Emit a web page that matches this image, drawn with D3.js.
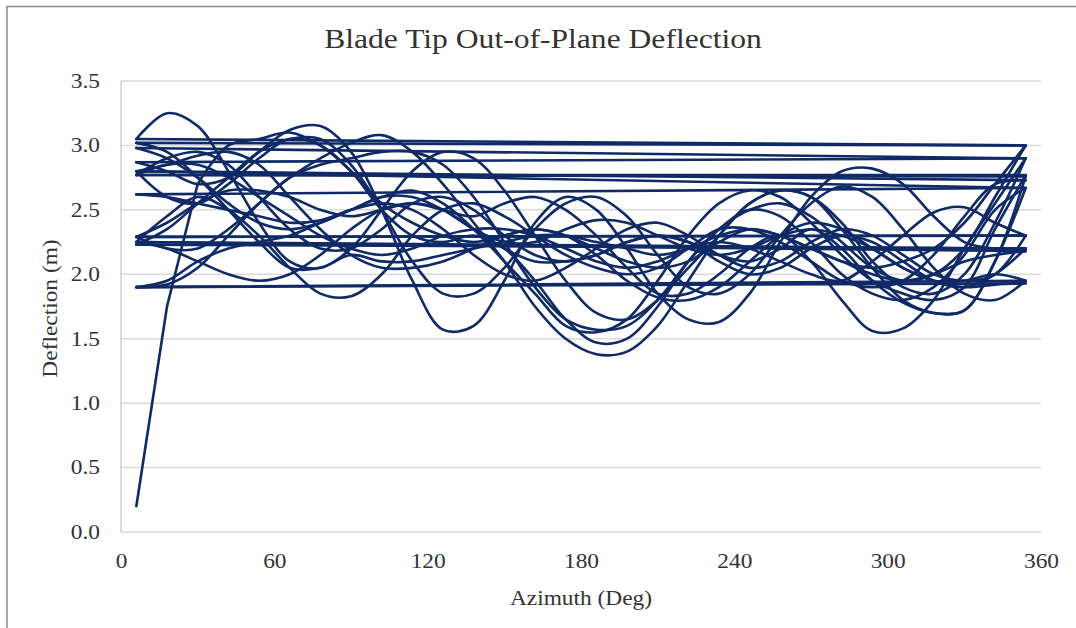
<!DOCTYPE html>
<html>
<head>
<meta charset="utf-8">
<script src="https://cdn.jsdelivr.net/npm/d3@7"></script>
<style>
  body { margin: 0; background: #fff; }
  text { font-family: "Liberation Serif", "Times New Roman", serif; fill: #333; }
</style>
</head>
<body>
<svg id="chart" width="1076" height="628"></svg>
<script>
// azimuth samples of each revolution (deg)
var azimuth = [6, 18, 30, 42, 54, 66, 78, 90, 102, 114, 126, 138, 150, 162, 174,
               186, 198, 210, 222, 234, 246, 258, 270, 282, 294, 306, 318, 330, 342, 354];

// tip deflection (m), one array per revolution
var rev01 = [0.2, 1.75, 2.7, 3.0, 3.05, 3.1, 3.0, 2.8, 2.55, 2.4, 2.3, 2.25, 2.3, 2.35, 2.3, 2.2, 2.1, 2.05, 2.1, 2.25, 2.35, 2.3, 2.2, 2.1, 2.05, 2.1, 2.2, 2.4, 2.7, 3.0];
var rev02 = [3.05, 3.25, 3.15, 2.8, 2.4, 2.1, 2.05, 2.2, 2.5, 2.8, 2.95, 2.9, 2.65, 2.3, 1.95, 1.7, 1.65, 1.8, 2.05, 2.3, 2.55, 2.65, 2.6, 2.4, 2.1, 1.9, 1.85, 2.0, 2.4, 2.9];
var rev03 = [2.87, 2.8, 2.7, 2.75, 2.95, 3.12, 3.15, 2.95, 2.5, 1.95, 1.57, 1.6, 1.95, 2.4, 2.6, 2.5, 2.2, 1.85, 1.65, 1.63, 1.85, 2.25, 2.6, 2.8, 2.82, 2.7, 2.45, 2.25, 2.2, 2.2];
var rev04 = [2.23, 2.35, 2.55, 2.75, 2.95, 3.05, 3.05, 2.85, 2.5, 2.1, 1.85, 1.85, 2.05, 2.35, 2.55, 2.6, 2.45, 2.15, 1.9, 1.85, 2.0, 2.3, 2.55, 2.68, 2.6, 2.35, 2.05, 1.85, 1.8, 1.95];
var rev05 = [1.9, 1.92, 2.05, 2.3, 2.55, 2.75, 2.9, 3.02, 3.08, 2.95, 2.7, 2.4, 2.1, 1.75, 1.5, 1.38, 1.4, 1.6, 1.95, 2.3, 2.55, 2.65, 2.6, 2.35, 2.05, 1.8, 1.7, 1.72, 2.1, 2.76];
var rev06 = [2.77, 2.9, 2.95, 2.85, 2.6, 2.35, 2.2, 2.2, 2.35, 2.55, 2.6, 2.5, 2.3, 2.15, 2.1, 2.15, 2.25, 2.3, 2.25, 2.1, 2.0, 2.05, 2.2, 2.3, 2.25, 2.1, 1.95, 1.9, 2.0, 2.2];
var rev07 = [2.25, 2.45, 2.6, 2.5, 2.3, 2.05, 1.85, 1.83, 2.0, 2.3, 2.5, 2.55, 2.45, 2.3, 2.15, 2.05, 2.0, 2.05, 2.2, 2.35, 2.35, 2.25, 2.1, 1.95, 1.9, 1.95, 2.15, 2.45, 2.7, 2.73];
var rev08 = [2.8, 2.6, 2.55, 2.7, 2.9, 3.05, 3.0, 2.8, 2.5, 2.3, 2.25, 2.3, 2.2, 1.95, 1.65, 1.47, 1.5, 1.75, 2.1, 2.35, 2.5, 2.45, 2.25, 2.0, 1.85, 1.8, 1.9, 2.15, 2.5, 2.67];
var rev09 = [2.62, 2.6, 2.55, 2.5, 2.45, 2.4, 2.42, 2.5, 2.55, 2.5, 2.35, 2.15, 2.0, 1.95, 2.05, 2.2, 2.35, 2.4, 2.3, 2.15, 2.05, 2.1, 2.25, 2.35, 2.3, 2.15, 2.0, 1.95, 2.0, 2.3];
var rev10 = [2.29, 2.2, 2.2, 2.35, 2.55, 2.75, 2.85, 2.9, 2.95, 2.95, 2.85, 2.6, 2.25, 1.9, 1.65, 1.57, 1.6, 1.8, 2.1, 2.35, 2.5, 2.55, 2.45, 2.25, 2.05, 1.95, 2.0, 2.2, 2.6, 3.0];
var rev11 = [3.02, 2.95, 2.75, 2.5, 2.25, 2.05, 2.05, 2.15, 2.1, 2.1, 2.15, 2.2, 2.25, 2.3, 2.3, 2.25, 2.2, 2.15, 2.2, 2.3, 2.35, 2.3, 2.2, 2.1, 2.0, 1.95, 2.0, 2.1, 2.15, 2.18];
var rev12 = [2.25, 2.2, 2.1, 2.0, 1.95, 2.0, 2.15, 2.35, 2.5, 2.55, 2.5, 2.45, 2.55, 2.6, 2.5, 2.3, 2.05, 1.85, 1.85, 2.0, 2.2, 2.3, 2.1, 1.8, 1.56, 1.58, 1.8, 2.2, 2.55, 2.9];
var rev13 = [2.98, 2.9, 2.75, 2.55, 2.4, 2.35, 2.4, 2.5, 2.6, 2.6, 2.5, 2.35, 2.25, 2.25, 2.35, 2.42, 2.4, 2.3, 2.2, 2.15, 2.2, 2.3, 2.35, 2.3, 2.2, 2.05, 1.95, 1.9, 1.92, 1.93];
var rev14 = [1.9, 1.95, 2.1, 2.2, 2.25, 2.3, 2.4, 2.5, 2.6, 2.65, 2.55, 2.35, 2.1, 1.85, 1.6, 1.55, 1.65, 1.95, 2.3, 2.55, 2.65, 2.6, 2.4, 2.15, 1.95, 1.85, 1.8, 1.9, 2.35, 2.77];
var rev15 = [2.77, 2.85, 2.85, 2.75, 2.6, 2.45, 2.3, 2.2, 2.15, 2.2, 2.3, 2.35, 2.35, 2.3, 2.2, 2.1, 2.05, 2.1, 2.2, 2.25, 2.2, 2.1, 2.0, 1.95, 2.1, 2.3, 2.48, 2.52, 2.4, 2.3];
var rev16 = [2.29, 2.4, 2.55, 2.65, 2.65, 2.6, 2.5, 2.45, 2.5, 2.55, 2.5, 2.35, 2.2, 2.1, 2.1, 2.15, 2.25, 2.3, 2.25, 2.15, 2.1, 2.2, 2.35, 2.2, 1.95, 1.78, 1.7, 1.72, 2.1, 2.67];
var rev17 = [2.8, 2.85, 2.92, 2.95, 2.85, 2.6, 2.35, 2.15, 2.05, 2.05, 2.1, 2.2, 2.3, 2.35, 2.3, 2.15, 1.95, 1.82, 1.8, 1.9, 2.1, 2.3, 2.4, 2.35, 2.2, 2.05, 1.95, 1.95, 2.0, 1.95];

var revolutions = [rev01, rev02, rev03, rev04, rev05, rev06, rev07, rev08, rev09,
                   rev10, rev11, rev12, rev13, rev14, rev15, rev16, rev17];

var xTicks = [0, 60, 120, 180, 240, 300, 360];
var yTicks = [0, 0.5, 1.0, 1.5, 2.0, 2.5, 3.0, 3.5];

var svg = d3.select('#chart');
var margin = {top: 81, right: 35, bottom: 96, left: 121};
var width = 1076 - margin.left - margin.right;
var height = 628 - margin.top - margin.bottom;
var stretch = 'scale(1.17,1)';   // the original lettering runs wide

// outer frame
svg.append('path')
    .attr('d', 'M7,640 V6.5 H1080')
    .attr('fill', 'none')
    .attr('stroke', '#8c8c8c')
    .attr('stroke-width', 1.5);

var g = svg.append('g').attr('transform', 'translate(' + margin.left + ',' + margin.top + ')');

var x = d3.scaleLinear().domain([0, 360]).range([0, width]);
var y = d3.scaleLinear().domain([0, 3.5]).range([height, 0]);

// grid
g.append('g')
    .selectAll('line')
    .data(yTicks)
    .enter().append('line')
    .attr('x1', 0)
    .attr('x2', width)
    .attr('y1', function(d) { return y(d); })
    .attr('y2', function(d) { return y(d); })
    .attr('stroke', '#d9d9d9')
    .attr('stroke-width', 1.5);

g.append('line')
    .attr('x1', 0).attr('x2', 0)
    .attr('y1', 0).attr('y2', height)
    .attr('stroke', '#d0d0d0')
    .attr('stroke-width', 1.5);

var yAxis = d3.axisLeft(y).tickValues(yTicks).tickFormat(d3.format('.1f')).tickSize(0).tickPadding(18);
g.append('g').call(yAxis)
    .call(function(s) { s.select('.domain').remove(); })
    .selectAll('text')
    .attr('transform', stretch)
    .style('font-size', '20px')
    .style('font-family', '"Liberation Serif", serif')
    .attr('fill', '#333');

var xAxis = d3.axisBottom(x).tickValues(xTicks).tickFormat(d3.format('d')).tickSize(0).tickPadding(22);
g.append('g').attr('transform', 'translate(0,' + height + ')').call(xAxis)
    .call(function(s) { s.select('.domain').remove(); })
    .selectAll('text')
    .attr('transform', stretch)
    .attr('x', 0)
    .style('font-size', '20px')
    .style('font-family', '"Liberation Serif", serif')
    .attr('fill', '#333');

// each revolution drawn smooth, with the straight jump back to the next start
var line = d3.line()
    .x(function(d) { return x(d[0]); })
    .y(function(d) { return y(d[1]); })
    .curve(d3.curveCatmullRom.alpha(0.5));

var jump = d3.line()
    .x(function(d) { return x(d[0]); })
    .y(function(d) { return y(d[1]); });

var traces = g.append('g')
    .attr('fill', 'none')
    .attr('stroke', '#0f2a66')
    .attr('stroke-width', 2.6)
    .attr('stroke-linejoin', 'round')
    .attr('stroke-linecap', 'round');

revolutions.forEach(function(rev, k) {
    var pts = rev.map(function(v, i) { return [azimuth[i], v]; });
    // the start-up sweep is a straight climb, keep it unsmoothed
    traces.append('path').attr('d', k === 0 ? jump(pts.slice(0, 3)) + line(pts.slice(2)).replace(/^M[^C]*/, 'L' + x(pts[2][0]) + ',' + y(pts[2][1])) : line(pts));
    if (k < revolutions.length - 1) {
        var next = revolutions[k + 1];
        traces.append('path').attr('d', jump([
            [azimuth[azimuth.length - 1], rev[rev.length - 1]],
            [azimuth[0], next[0]]
        ]));
    }
});

// titles
svg.append('text')
    .attr('transform', 'translate(543,48) ' + stretch)
    .attr('text-anchor', 'middle')
    .style('font-size', '27px')
    .text('Blade Tip Out-of-Plane Deflection');

svg.append('text')
    .attr('transform', 'translate(' + (margin.left + width / 2) + ',605) ' + stretch)
    .attr('text-anchor', 'middle')
    .style('font-size', '20px')
    .text('Azimuth (Deg)');

svg.append('text')
    .attr('transform', 'translate(57,' + (margin.top + height / 2 + 2) + ') rotate(-90) ' + stretch)
    .attr('text-anchor', 'middle')
    .style('font-size', '20px')
    .text('Deflection (m)');
</script>
</body>
</html>
